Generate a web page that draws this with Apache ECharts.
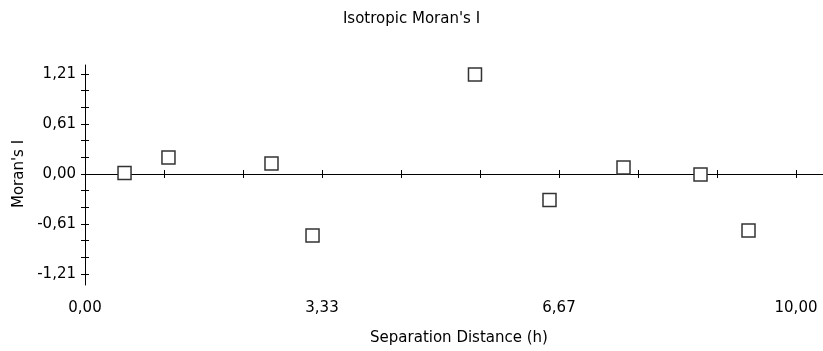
<!DOCTYPE html>
<html>
<head>
<meta charset="utf-8">
<script src="https://cdn.jsdelivr.net/npm/echarts@6/dist/echarts.min.js"></script>
<style>
html,body{margin:0;padding:0;background:#fff;}
#chart{width:823px;height:351px;}
</style>
</head>
<body>
<div id="chart"></div>
<script>
// Data
const separationDistance = [0.556, 1.174, 2.623, 3.20, 5.485, 6.533, 7.574, 8.657, 9.332];
const moransI = [0.012, 0.20, 0.127, -0.744, 1.204, -0.315, 0.079, -0.006, -0.684];
const xTickLabels = ['0,00', '3,33', '6,67', '10,00'];
const yTickLabels = ['-1,21', '-0,61', '0,00', '0,61', '1,21'];
const titleText = "Isotropic Moran's I";
const xName = 'Separation Distance (h)';
const yName = "Moran's I";

const FONT = '"DejaVu Sans", sans-serif';
const FS = 15;
const BLACK = '#000';
const points = separationDistance.map((x, i) => [x, moransI[i]]);

const chart = echarts.init(document.getElementById('chart'), null, {renderer: 'canvas'});
const hidden = {show: false};

chart.setOption({
  animation: false,
  backgroundColor: '#fff',
  title: {
    text: titleText, left: 'center', top: 7,
    textStyle: {fontFamily: FONT, fontSize: FS, fontWeight: 'normal', color: BLACK}
  },
  grid: [
    {left: 85, top: 74, width: 711, height: 200},          // 0 main
    {left: 0, top: 74, width: 85, height: 200},            // 1 y ticks to the right
    {left: 85, top: 65, right: 0, height: 220},            // 2 extended lines
    {left: 85, top: 74, width: 711, height: 100},          // 3 x ticks below zero
    {left: 85, top: 174, width: 711, height: 100}          // 4 x ticks above zero
  ],
  xAxis: [
    {
      gridIndex: 0, type: 'value', min: 0, max: 10, interval: 10 / 3, position: 'bottom',
      axisLine: {show: false, onZero: false}, axisTick: hidden, splitLine: hidden,
      axisLabel: {
        margin: 27, fontFamily: FONT, fontSize: FS, color: BLACK,
        formatter: (v, i) => xTickLabels[i] !== undefined ? xTickLabels[i] : ''
      },
      name: xName, nameLocation: 'middle', nameGap: 57,
      nameTextStyle: {fontFamily: FONT, fontSize: FS, color: BLACK, padding: [0, 0, 0, 37]}
    },
    {gridIndex: 1, type: 'value', min: 0, max: 1, show: false},
    {
      gridIndex: 2, type: 'value', min: 0, max: 1,
      axisLine: {show: true, onZero: true, lineStyle: {color: BLACK, width: 1}},
      axisTick: hidden, axisLabel: hidden, splitLine: hidden
    },
    {
      gridIndex: 3, type: 'value', min: 0, max: 10, interval: 10 / 9, position: 'bottom',
      axisLine: {show: false, onZero: false},
      axisTick: {show: true, length: 4, lineStyle: {color: BLACK, width: 1}},
      axisLabel: hidden, splitLine: hidden
    },
    {
      gridIndex: 4, type: 'value', min: 0, max: 10, interval: 10 / 9, position: 'top',
      axisLine: {show: false, onZero: false},
      axisTick: {show: true, length: 4, lineStyle: {color: BLACK, width: 1}},
      axisLabel: hidden, splitLine: hidden
    }
  ],
  yAxis: [
    {
      gridIndex: 0, type: 'value', min: -1.21, max: 1.21, interval: 0.605, position: 'left',
      axisLine: {show: false, onZero: false},
      axisTick: {show: true, length: 4, lineStyle: {color: BLACK, width: 1}},
      minorTick: {show: true, splitNumber: 3, length: 4, lineStyle: {color: BLACK, width: 1}},
      splitLine: hidden,
      axisLabel: {
        margin: 9, fontFamily: FONT, fontSize: FS, color: BLACK,
        formatter: (v, i) => yTickLabels[i] !== undefined ? yTickLabels[i] : ''
      },
      name: yName, nameLocation: 'middle', nameGap: 58, nameRotate: 90,
      nameTextStyle: {fontFamily: FONT, fontSize: FS, color: BLACK}
    },
    {
      gridIndex: 1, type: 'value', min: -1.21, max: 1.21, interval: 0.605, position: 'right',
      axisLine: {show: false, onZero: false},
      axisTick: {show: true, length: 4, lineStyle: {color: BLACK, width: 1}},
      minorTick: {show: true, splitNumber: 3, length: 4, lineStyle: {color: BLACK, width: 1}},
      axisLabel: hidden, splitLine: hidden
    },
    {
      gridIndex: 2, type: 'value', min: -111, max: 109, position: 'left',
      axisLine: {show: true, onZero: false, lineStyle: {color: BLACK, width: 1}},
      axisTick: hidden, axisLabel: hidden, splitLine: hidden
    },
    {gridIndex: 3, type: 'value', min: 0, max: 1, show: false},
    {gridIndex: 4, type: 'value', min: 0, max: 1, show: false}
  ],
  series: [{
    type: 'scatter', xAxisIndex: 0, yAxisIndex: 0,
    data: points,
    symbol: 'rect', symbolSize: 13,
    itemStyle: {color: '#fff', borderColor: '#333', borderWidth: 1.5, opacity: 1},
    emphasis: {disabled: true},
    z: 10
  }]
});
</script>
</body>
</html>
